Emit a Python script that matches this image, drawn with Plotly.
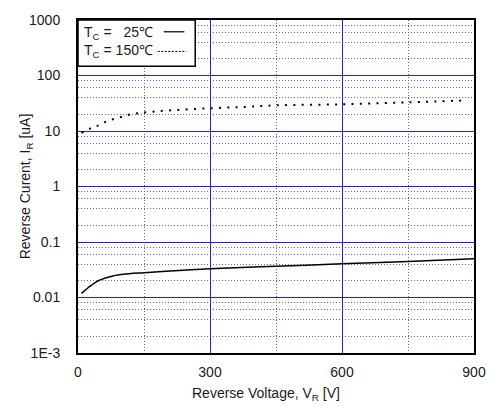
import plotly.graph_objects as go

# Data
v_25 = [8, 30, 49, 79, 116, 150, 200, 300, 450, 600, 750, 900]
i_25 = [0.0119, 0.0165, 0.0206, 0.0245, 0.0269, 0.028, 0.0298, 0.033, 0.0365, 0.0405, 0.0447, 0.0497]

v_150 = [8, 28, 47, 65, 83, 103, 121, 139, 158, 214, 300, 380, 453, 600, 750, 886]
i_150 = [9.3, 11.1, 12.7, 14.9, 16.6, 18.3, 20.1, 21.0, 21.9, 23.7, 25.7, 27.2, 29.0, 30.3, 32.9, 35.6]

x_ticks = [0, 300, 600, 900]
y_ticks = [1e-3, 0.01, 0.1, 1, 10, 100, 1000]
y_ticklabels = ["1E-3", "0.01", "0.1", "1", "10", "100", "1000"]
y_minor = [m * 10 ** e for e in range(-3, 3) for m in (2, 4, 6, 8)]

legend_lines = ["T<sub>C</sub> =\u00a0\u00a0\u00a025\u2103", "T<sub>C</sub> = 150\u2103"]

FONT = "Liberation Sans, Arial, sans-serif"
TXT = "#1a1a1a"
MAJ = "rgb(30,30,255)"
MIN = "rgb(90,90,255)"

fig = go.Figure()
fig.add_trace(go.Scatter(x=v_25, y=i_25, mode="lines", line=dict(color="black", width=1.5, shape="spline"),
                         showlegend=False))
fig.add_trace(go.Scatter(x=v_150, y=i_150, mode="lines",
                         line=dict(color="black", width=2, dash="2px,6.3px", shape="spline"),
                         showlegend=False))

fig.update_layout(
    width=498, height=417,
    margin=dict(l=78, r=18, t=14, b=64),
    plot_bgcolor="white", paper_bgcolor="white",
    font=dict(family=FONT, size=14, color=TXT),
    showlegend=False,
)
fig.update_xaxes(
    range=[0, 900], tickvals=x_ticks, ticktext=[str(t) for t in x_ticks],
    showgrid=True, gridcolor=MAJ, gridwidth=1,
    showline=True, linecolor="black", linewidth=2, mirror=True,
    ticks="", ticklabelstandoff=5, zeroline=False,
    minor=dict(dtick=150, tick0=0, showgrid=True, gridcolor=MIN, griddash="1px,2px", gridwidth=1),
    tickfont=dict(size=14, family=FONT, color=TXT),
)
fig.update_yaxes(
    type="log", range=[-3, 3], tickvals=y_ticks, ticktext=y_ticklabels,
    showgrid=True, gridcolor=MAJ, gridwidth=1,
    showline=True, linecolor="black", linewidth=2, mirror=True,
    ticks="", ticklabelstandoff=13, zeroline=False,
    minor=dict(tickmode="array", tickvals=y_minor, showgrid=True, gridcolor=MIN, griddash="1px,2px", gridwidth=1),
    tickfont=dict(size=14, family=FONT, color=TXT),
)

# axis titles
fig.add_annotation(text="Reverse Voltage, V<sub>R</sub> [V]", xref="paper", yref="paper",
                   x=(192 - 78) / 402, y=-(395 - 353) / 339, showarrow=False,
                   font=dict(size=14, family=FONT, color=TXT), xanchor="left", yanchor="middle")
fig.add_annotation(text="Reverse Curent, I<sub>R</sub> [uA]", xref="paper", yref="paper",
                   x=-(78 - 25) / 402, y=0.5, showarrow=False, textangle=-90,
                   font=dict(size=14, family=FONT, color=TXT), xanchor="center", yanchor="middle")

# legend box
def px(xp):
    return (xp - 78) / 402

def py(yp):
    return (353 - yp) / 339

fig.add_shape(type="rect", xref="paper", yref="paper", x0=px(78), x1=px(197), y0=py(61), y1=py(14),
              fillcolor="white", line=dict(color="black", width=1.5), layer="above")
fig.add_annotation(text=legend_lines[0], xref="paper", yref="paper", x=px(82), y=py(27),
                   xanchor="left", yanchor="middle", showarrow=False,
                   font=dict(size=14, family=FONT, color=TXT))
fig.add_annotation(text=legend_lines[1], xref="paper", yref="paper", x=px(82), y=py(46),
                   xanchor="left", yanchor="middle", showarrow=False,
                   font=dict(size=14, family=FONT, color=TXT))
fig.add_shape(type="line", xref="paper", yref="paper", x0=px(165), x1=px(186), y0=py(26), y1=py(26),
              line=dict(color="black", width=1.2), layer="above")
fig.add_shape(type="line", xref="paper", yref="paper", x0=px(159), x1=px(188), y0=py(46), y1=py(46),
              line=dict(color="black", width=1, dash="2px,1.5px"), layer="above")

fig.write_html("out.html", config={"displayModeBar": False},
               post_script="document.body.style.margin='0';document.body.style.overflow='hidden';")
